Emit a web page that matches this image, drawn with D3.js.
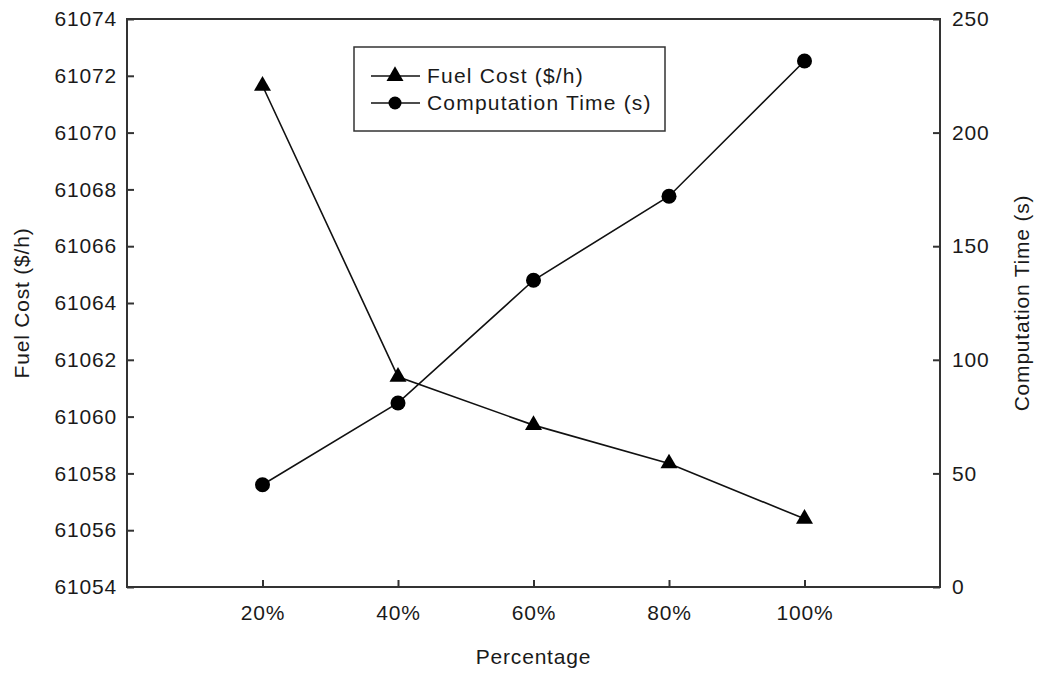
<!DOCTYPE html>
<html>
<head>
<meta charset="utf-8">
<script src="https://d3js.org/d3.v7.min.js"></script>
<style>
  body { margin: 0; background: #fff; }
  text { font-family: Arial, "Liberation Sans", sans-serif; fill: #1a1a1a; letter-spacing: 0.8px; }
</style>
</head>
<body>
<div id="chart"></div>
<script>
// data
var percentages = [20, 40, 60, 80, 100];
var fuelCost = [61071.65, 61061.4, 61059.7, 61058.35, 61056.4];
var compTime = [45, 81, 135, 172, 231.5];
var xTicks = [20, 40, 60, 80, 100];
var yLeftTicks = [61054, 61056, 61058, 61060, 61062, 61064, 61066, 61068, 61070, 61072, 61074];
var yRightTicks = [0, 50, 100, 150, 200, 250];

var svgWidth = 1041;
var svgHeight = 673;
var margin = { top: 19, right: 101, bottom: 86, left: 127 };
var width = svgWidth - margin.left - margin.right;
var height = svgHeight - margin.top - margin.bottom;

var svg = d3.select("#chart")
  .append("svg")
  .attr("width", svgWidth)
  .attr("height", svgHeight);

var chartGroup = svg.append("g")
  .attr("transform", `translate(${margin.left}, ${margin.top})`);

var x = d3.scaleLinear().domain([0, 120]).range([0, width]);
var yLeft = d3.scaleLinear().domain([61054, 61074]).range([height, 0]);
var yRight = d3.scaleLinear().domain([0, 250]).range([height, 0]);

var fontSize = 21;
var axisColor = "#333";

// frame
chartGroup.append("rect")
  .attr("width", width)
  .attr("height", height)
  .attr("fill", "none")
  .attr("stroke", axisColor)
  .attr("stroke-width", 2);

// axes, ticks drawn inward
function styleAxis(g) {
  g.select(".domain").remove();
  g.selectAll(".tick line").attr("stroke", axisColor).attr("stroke-width", 2);
  g.selectAll(".tick text")
    .style("font-size", fontSize + "px")
    .attr("fill", "#1a1a1a");
}

var bottomAxis = d3.axisBottom(x)
  .tickValues(xTicks)
  .tickSize(-7)
  .tickPadding(18)
  .tickFormat(d => d + "%");

chartGroup.append("g")
  .attr("transform", `translate(0, ${height})`)
  .call(bottomAxis)
  .call(styleAxis);

var leftAxis = d3.axisLeft(yLeft)
  .tickValues(yLeftTicks)
  .tickSize(-7)
  .tickPadding(10)
  .tickFormat(d3.format("d"));

chartGroup.append("g")
  .call(leftAxis)
  .call(styleAxis);

var rightAxis = d3.axisRight(yRight)
  .tickValues(yRightTicks)
  .tickSize(-7)
  .tickPadding(12);

chartGroup.append("g")
  .attr("transform", `translate(${width}, 0)`)
  .call(rightAxis)
  .call(styleAxis);

// lines
var fuelData = percentages.map((p, i) => ({ p: p, v: fuelCost[i] }));
var timeData = percentages.map((p, i) => ({ p: p, v: compTime[i] }));

var fuelLine = d3.line().x(d => x(d.p)).y(d => yLeft(d.v));
var timeLine = d3.line().x(d => x(d.p)).y(d => yRight(d.v));

chartGroup.append("path")
  .datum(fuelData)
  .attr("d", fuelLine)
  .attr("fill", "none")
  .attr("stroke", "#111")
  .attr("stroke-width", 1.6);

chartGroup.append("path")
  .datum(timeData)
  .attr("d", timeLine)
  .attr("fill", "none")
  .attr("stroke", "#111")
  .attr("stroke-width", 1.6);

var triangle = d3.symbol().type(d3.symbolTriangle).size(125);

chartGroup.selectAll(".tri")
  .data(fuelData)
  .enter()
  .append("path")
  .attr("class", "tri")
  .attr("d", triangle)
  .attr("transform", d => `translate(${x(d.p)}, ${yLeft(d.v)})`)
  .attr("fill", "#000");

chartGroup.selectAll(".dot")
  .data(timeData)
  .enter()
  .append("circle")
  .attr("class", "dot")
  .attr("cx", d => x(d.p))
  .attr("cy", d => yRight(d.v))
  .attr("r", 7.5)
  .attr("fill", "#000");

// legend
var legend = svg.append("g").attr("transform", "translate(354, 47)");
legend.append("rect")
  .attr("width", 311)
  .attr("height", 84)
  .attr("fill", "#fff")
  .attr("stroke", axisColor)
  .attr("stroke-width", 1.5);

var legendItems = ["Fuel Cost ($/h)", "Computation Time (s)"];
legendItems.forEach(function(label, i) {
  var row = legend.append("g").attr("transform", `translate(0, ${29 + i * 27})`);
  row.append("line")
    .attr("x1", 17).attr("x2", 66)
    .attr("stroke", "#111").attr("stroke-width", 1.6);
  if (i === 0) {
    row.append("path").attr("d", triangle).attr("transform", "translate(41, 0)").attr("fill", "#000");
  } else {
    row.append("circle").attr("cx", 41).attr("r", 6.5).attr("fill", "#000");
  }
  row.append("text")
    .attr("x", 73)
    .attr("dy", "0.35em")
    .style("font-size", fontSize + "px")
    .style("letter-spacing", "1.2px")
    .text(label);
});

// axis labels
svg.append("text")
  .attr("x", margin.left + width / 2)
  .attr("y", 664)
  .attr("text-anchor", "middle")
  .style("font-size", fontSize + "px")
  .text("Percentage");

svg.append("text")
  .attr("transform", `translate(29, ${margin.top + height / 2}) rotate(-90)`)
  .attr("text-anchor", "middle")
  .style("font-size", fontSize + "px")
  .text("Fuel Cost ($/h)");

svg.append("text")
  .attr("transform", `translate(1029, ${margin.top + height / 2}) rotate(-90)`)
  .attr("text-anchor", "middle")
  .style("font-size", fontSize + "px")
  .text("Computation Time (s)");
</script>
</body>
</html>
